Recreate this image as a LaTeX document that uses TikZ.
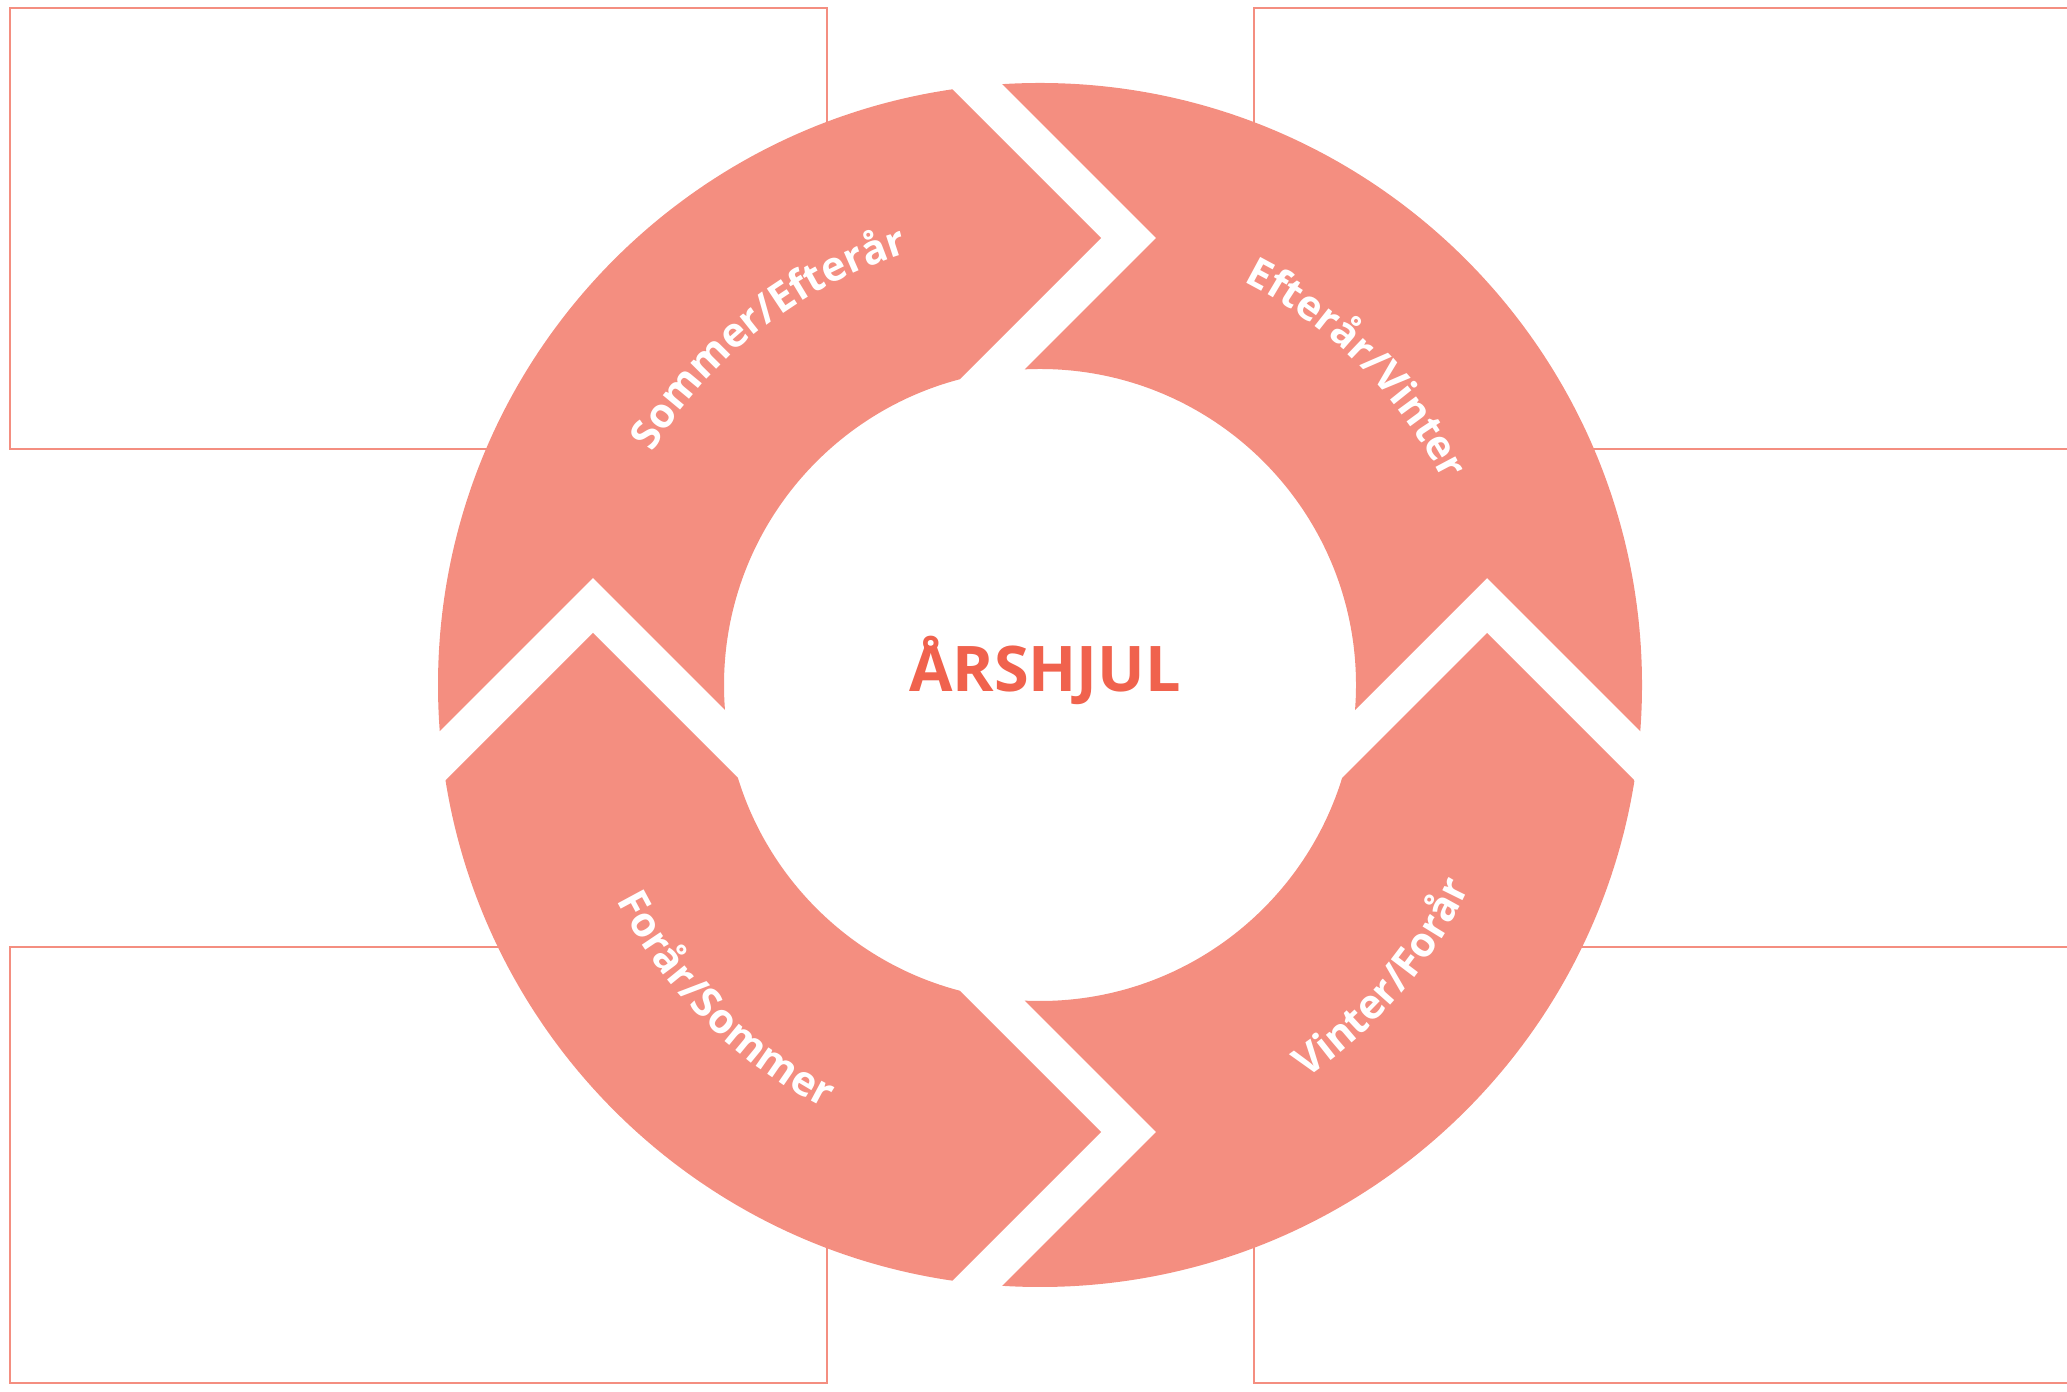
\documentclass[tikz,border=0pt]{standalone}
\usepackage{fontspec}
\newfontfamily\osans{Open Sans}
\usetikzlibrary{decorations.text}
\definecolor{salmon}{HTML}{F48E80}
\definecolor{tomato}{HTML}{F0624D}
\newcommand\wheelfmt{\osans\bfseries\fontsize{11.7}{14}\selectfont\color{white}}
\begin{document}
\begin{tikzpicture}[x=0.01cm,y=0.01cm,
  frame/.style={draw=salmon, line width=0.75pt},
  seg/.style={fill=salmon, even odd rule}]
\useasboundingbox (0,0) rectangle (2067,1391);
\coordinate (C) at (1040,706);
% frames
\draw[frame] (10,942) rectangle (827,1383);
\draw[frame] (1254,942) rectangle (2100,1383);
\draw[frame] (10,8) rectangle (827,444);
\draw[frame] (1254,8) rectangle (2100,444);
\fill[white] (C) circle (316);
% top-left segment
\begin{scope}
\clip (243,463) -- (593,813) -- (893,513) -- (801,853) -- (1101,1153) -- (751,1503) -- (-50,1503) -- (-50,463) -- cycle;
\fill[seg] (C) circle (602) (C) circle (316);
\end{scope}
% top-right segment
\begin{scope}
\clip (806,1503) -- (1156,1153) -- (856,853) -- (1187,513) -- (1487,813) -- (1837,463) -- (2150,463) -- (2150,1503) -- cycle;
\fill[seg] (C) circle (602) (C) circle (316);
\end{scope}
% bottom-right segment
\begin{scope}
\clip (1837,408) -- (1487,758) -- (1187,458) -- (856,559) -- (1156,259) -- (806,-91) -- (2150,-91) -- (2150,408) -- cycle;
\fill[seg] (C) circle (602) (C) circle (316);
\end{scope}
% bottom-left segment
\begin{scope}
\clip (243,408) -- (593,758) -- (893,458) -- (801,559) -- (1101,259) -- (751,-91) -- (-50,-91) -- (-50,408) -- cycle;
\fill[seg] (C) circle (602) (C) circle (316);
\end{scope}
% curved labels
\begin{scope}[shift={(C)}]
\path[decorate, decoration={text along path, text align=center, text={|\wheelfmt|Sommer/Efterår}}]
  (168:452) arc[start angle=168, end angle=88, radius=452];
\path[decorate, decoration={text along path, text align=center, text={|\wheelfmt|Efterår/Vinter}}]
  (85:452) arc[start angle=85, end angle=5, radius=452];
\path[decorate, decoration={text along path, text align=center, text={|\wheelfmt|Vinter/Forår}}]
  (-80.5:475) arc[start angle=-80.5, end angle=-0.5, radius=475];
\path[decorate, decoration={text along path, text align=center, text={|\wheelfmt|Forår/Sommer}}]
  (-175:475) arc[start angle=-175, end angle=-95, radius=475];
\end{scope}
\node[font=\osans\bfseries\fontsize{17.9}{21}\selectfont, text=tomato, anchor=base, inner sep=0pt] (title) at (1045,699) {ÅRSHJUL};
\end{tikzpicture}
\end{document}
